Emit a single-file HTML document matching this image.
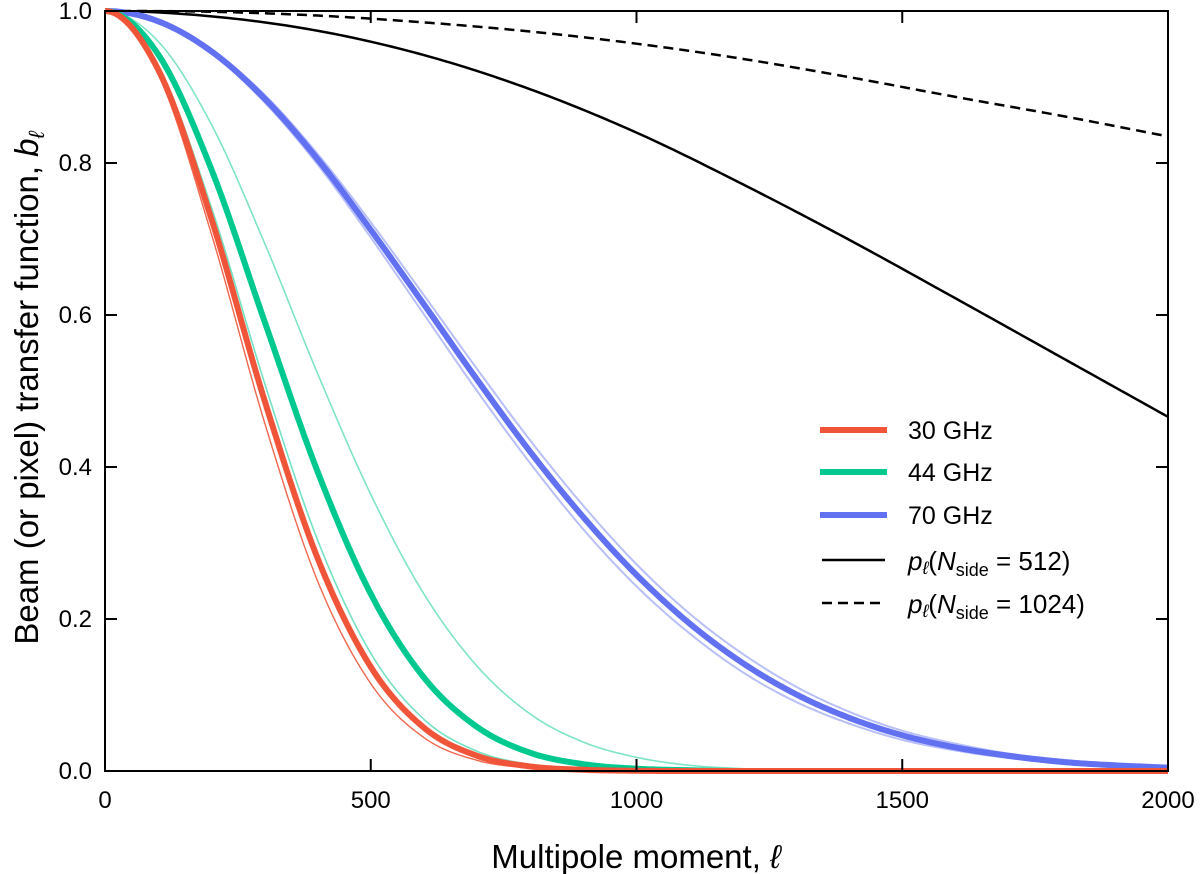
<!DOCTYPE html>
<html><head><meta charset="utf-8"><style>
html,body{margin:0;padding:0;background:#fff;}
svg{display:block;font-family:"Liberation Sans","DejaVu Sans",sans-serif;}
</style></head><body>
<svg id="chart" width="1200" height="874" viewBox="0 0 1200 874" xmlns="http://www.w3.org/2000/svg">
<g id="series"></g>
<rect x="105" y="11" width="1063" height="760" fill="none" stroke="#000" stroke-width="2"/>
<g id="axes"></g>
<text x="636" y="868" font-size="33" text-anchor="middle">Multipole moment, <tspan font-style="italic">ℓ</tspan></text>
<text transform="translate(38,388) rotate(-90)" font-size="33" text-anchor="middle">Beam (or pixel) transfer function, <tspan font-style="italic">b</tspan><tspan font-style="italic" font-size="22" dy="6">ℓ</tspan></text>
<g id="legend">
 <line x1="820" y1="430" x2="887" y2="430" stroke="#f0553a" stroke-width="6"/>
 <text x="908" y="439" font-size="25">30 GHz</text>
 <line x1="820" y1="472" x2="887" y2="472" stroke="#00c98f" stroke-width="6"/>
 <text x="908" y="481" font-size="25">44 GHz</text>
 <line x1="820" y1="515" x2="887" y2="515" stroke="#6270f2" stroke-width="6"/>
 <text x="908" y="524" font-size="25">70 GHz</text>
 <line x1="822" y1="560" x2="885" y2="560" stroke="#000" stroke-width="2.5"/>
 <text x="908" y="570" font-size="26"><tspan font-style="italic">p</tspan><tspan font-style="italic" font-size="18" dy="4">ℓ</tspan><tspan dy="-4">(</tspan><tspan font-style="italic">N</tspan><tspan font-size="18" dy="6">side</tspan><tspan dy="-6"> = 512)</tspan></text>
 <line x1="822" y1="603" x2="885" y2="603" stroke="#000" stroke-width="2.5" stroke-dasharray="10,6"/>
 <text x="908" y="613" font-size="26"><tspan font-style="italic">p</tspan><tspan font-style="italic" font-size="18" dy="4">ℓ</tspan><tspan dy="-4">(</tspan><tspan font-style="italic">N</tspan><tspan font-size="18" dy="6">side</tspan><tspan dy="-6"> = 1024)</tspan></text>
</g>
</svg>
<script>
const ellGrid = [0,100,200,300,400,500,600,700,800,900,1000,1100,1200,1300,1400,1500,1600,1700,1800,1900,2000];
const red30Thin = [1,0.917,0.707,0.459,0.250,0.115,0.044,0.014,0.004,0.001,0,0,0,0,0,0,0,0,0,0,0];
const red30 = [1,0.923,0.727,0.488,0.280,0.137,0.057,0.020,0.006,0.0016,0.0003,0,0,0,0,0,0,0,0,0,0];
const green44ThinA = [1,0.928,0.742,0.511,0.304,0.155,0.068,0.026,0.0085,0.0024,0.0006,0,0,0,0,0,0,0,0,0,0];
const green44 = [1,0.943,0.792,0.592,0.394,0.233,0.123,0.058,0.024,0.009,0.003,0.001,0,0,0,0,0,0,0,0,0];
const green44ThinB = [1,0.960,0.851,0.695,0.523,0.364,0.233,0.138,0.075,0.038,0.018,0.0075,0.003,0.001,0,0,0,0,0,0,0];
const blue70ThinA = [1,0.986,0.945,0.880,0.798,0.702,0.601,0.500,0.405,0.318,0.243,0.181,0.130,0.091,0.0625,0.041,0.027,0.017,0.010,0.006,0.0035];
const blue70ThinB = [1,0.987,0.949,0.890,0.812,0.722,0.626,0.529,0.435,0.349,0.272,0.207,0.154,0.111,0.078,0.053,0.036,0.023,0.015,0.009,0.0055];
const blue70 = [1,0.9865,0.947,0.885,0.805,0.712,0.614,0.515,0.420,0.334,0.258,0.194,0.142,0.101,0.070,0.047,0.031,0.020,0.012,0.0075,0.0044];
const pixGrid = [0,200,400,600,800,1000,1200,1400,1600,1800,2000];
const pix512 = [1,0.993,0.974,0.942,0.897,0.840,0.772,0.699,0.622,0.544,0.466];
const pix1024 = [1,0.999,0.994,0.985,0.973,0.957,0.937,0.913,0.887,0.862,0.835];
const xTicks = [0,500,1000,1500,2000];
const yTicks = [0,0.2,0.4,0.6,0.8,1.0];
const yTickLabels = ["0.0","0.2","0.4","0.6","0.8","1.0"];

const NS = "http://www.w3.org/2000/svg";
const X0=105, X1=1168, Y0=771, Y1=11;
function xs(l){return X0+(l/2000)*(X1-X0);}
function ys(v){return Y0-(v/1.0)*(Y0-Y1);}
function mk(tag, parent){const e=document.createElementNS(NS,tag);parent.appendChild(e);return e;}

function smoothPath(xv, yv){
  const n=xv.length, d=[], m=new Array(n);
  for(let i=0;i<n-1;i++) d.push((yv[i+1]-yv[i])/(xv[i+1]-xv[i]));
  m[0]=0; m[n-1]=d[n-2];
  for(let i=1;i<n-1;i++){
    if(d[i-1]*d[i]<=0){m[i]=0;continue;}
    const h0=xv[i]-xv[i-1], h1=xv[i+1]-xv[i];
    m[i]=(d[i-1]*h1+d[i]*h0)/(h0+h1);
  }
  for(let i=0;i<n-1;i++){ if(d[i]===0){m[i]=0;m[i+1]=0;continue;}
    const a=m[i]/d[i], b=m[i+1]/d[i], s=a*a+b*b;
    if(s>9){const t=3/Math.sqrt(s); m[i]=t*a*d[i]; m[i+1]=t*b*d[i];} }
  let p="";
  for(let i=0;i<n-1;i++){
    const h=xv[i+1]-xv[i];
    for(let k=0;k<20;k++){
      const t=k/20, t2=t*t, t3=t2*t;
      const y=(2*t3-3*t2+1)*yv[i]+(t3-2*t2+t)*h*m[i]+(-2*t3+3*t2)*yv[i+1]+(t3-t2)*h*m[i+1];
      const x=xv[i]+t*h;
      p+=(p?"L":"M")+xs(x).toFixed(2)+","+ys(Math.max(0,y)).toFixed(2);
    }
  }
  p+="L"+xs(xv[n-1]).toFixed(2)+","+ys(yv[n-1]).toFixed(2);
  return p;
}
const g=document.getElementById("series");
function drawLine(name, xv, yv, color, w, op, dash){
  const e=mk("path", g);
  
  
  e.setAttribute("d", smoothPath(xv,yv));
  e.setAttribute("fill","none"); e.setAttribute("stroke",color);
  e.setAttribute("stroke-width",w); e.setAttribute("stroke-opacity",op);
  e.setAttribute("stroke-linejoin","round");
  if(dash) e.setAttribute("stroke-dasharray",dash);
}
drawLine("pixel-window-nside1024", pixGrid, pix1024, "#000", 2.5, 1, "10,6");
drawLine("pixel-window-nside512", pixGrid, pix512, "#000", 2.5, 1);
drawLine("beam-70ghz-thin-a", ellGrid, blue70ThinA, "#6270f2", 2, 0.45);
drawLine("beam-70ghz-thin-b", ellGrid, blue70ThinB, "#6270f2", 2, 0.45);
drawLine("beam-70ghz", ellGrid, blue70, "#6270f2", 6, 1);
drawLine("beam-44ghz-thin-b", ellGrid, green44ThinB, "#00c98f", 1.6, 0.5);
drawLine("beam-44ghz-thin-a", ellGrid, green44ThinA, "#00c98f", 1.6, 0.55);
drawLine("beam-44ghz", ellGrid, green44, "#00c98f", 6, 1);
drawLine("beam-30ghz-thin", ellGrid, red30Thin, "#f0553a", 1.4, 0.9);
drawLine("beam-30ghz", ellGrid, red30, "#f0553a", 6, 1);

const ax=document.getElementById("axes");
xTicks.forEach(function(t){
  const b=mk("line",ax);
  
  
  b.setAttribute("x1",xs(t));b.setAttribute("x2",xs(t));b.setAttribute("y1",Y0);b.setAttribute("y2",Y0-12);b.setAttribute("stroke","#000");b.setAttribute("stroke-width",2);
  const tp=mk("line",ax);
  
  
  tp.setAttribute("x1",xs(t));tp.setAttribute("x2",xs(t));tp.setAttribute("y1",Y1);tp.setAttribute("y2",Y1+12);tp.setAttribute("stroke","#000");tp.setAttribute("stroke-width",2);
  const lb=mk("text",ax);
  
  
  lb.setAttribute("x",xs(t));lb.setAttribute("y",808);lb.setAttribute("font-size",24);lb.setAttribute("text-anchor","middle");
  lb.textContent=String(t);
});
yTicks.forEach(function(t,i){
  const a=mk("line",ax);
  
  
  a.setAttribute("x1",X0);a.setAttribute("x2",X0+12);a.setAttribute("y1",ys(t));a.setAttribute("y2",ys(t));a.setAttribute("stroke","#000");a.setAttribute("stroke-width",2);
  const r=mk("line",ax);
  
  
  r.setAttribute("x1",X1);r.setAttribute("x2",X1-12);r.setAttribute("y1",ys(t));r.setAttribute("y2",ys(t));r.setAttribute("stroke","#000");r.setAttribute("stroke-width",2);
  const lb=mk("text",ax);
  
  
  lb.setAttribute("x",92);lb.setAttribute("y",ys(t)+8);lb.setAttribute("font-size",24);lb.setAttribute("text-anchor","end");
  lb.textContent=yTickLabels[i];
});
</script>
</body></html>
